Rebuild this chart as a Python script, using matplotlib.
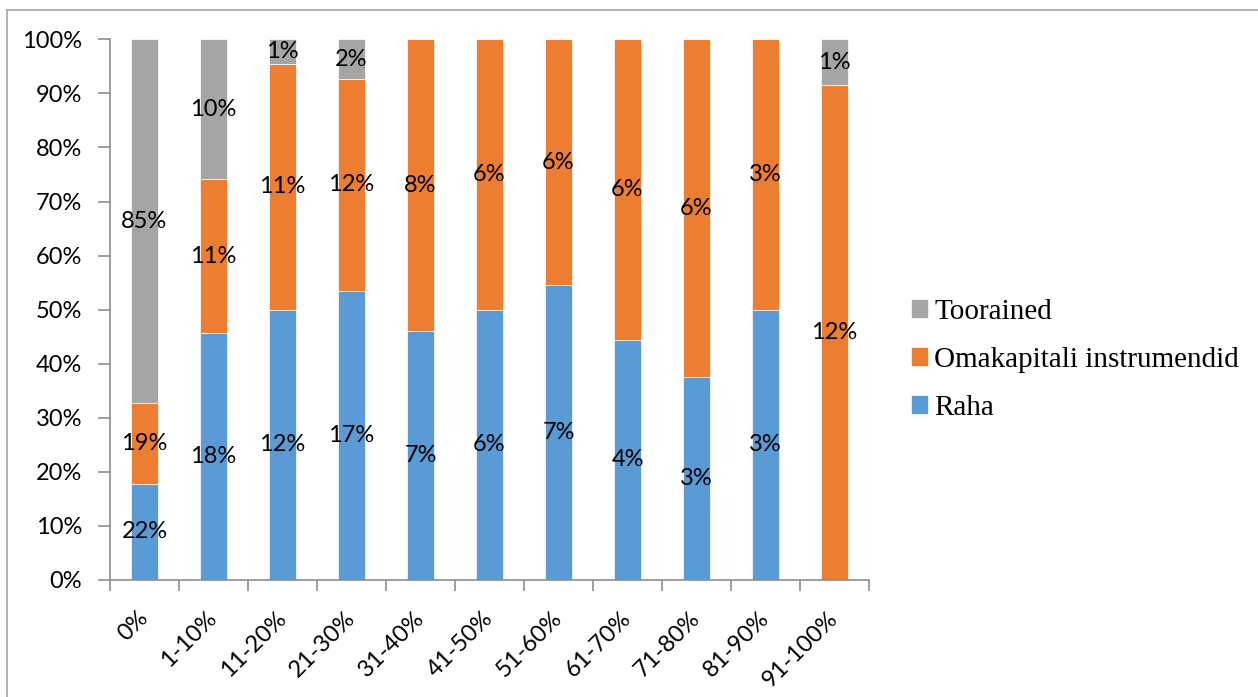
import matplotlib.pyplot as plt
import numpy as np
from matplotlib.lines import Line2D
from matplotlib.patches import Patch

### data (bar shares, labels as printed)
categories = ['0%', '1-10%', '11-20%', '21-30%', '31-40%', '41-50%',
              '51-60%', '61-70%', '71-80%', '81-90%', '91-100%']
raha = [17.8, 45.6, 50.0, 53.5, 46.1, 50.0, 54.5, 44.4, 37.5, 50.0, 0.0]
omakapital = [14.9, 28.6, 45.4, 39.2, 53.9, 50.0, 45.5, 55.6, 62.5, 50.0, 91.5]
toorained = [67.3, 25.8, 4.6, 7.3, 0.0, 0.0, 0.0, 0.0, 0.0, 0.0, 8.5]

raha_labels = ['22%', '18%', '12%', '17%', '7%', '6%', '7%', '4%', '3%', '3%', '']
omak_labels = ['19%', '11%', '11%', '12%', '8%', '6%', '6%', '6%', '6%', '3%', '12%']
toor_labels = ['85%', '10%', '1%', '2%', '', '', '', '', '', '', '1%']

series_names = ['Raha', 'Omakapitali instrumendid', 'Toorained']
colors = ['#5B9BD5', '#ED7D31', '#A5A5A5']
yticks = [0, 10, 20, 30, 40, 50, 60, 70, 80, 90, 100]

axis_grey = '#8c8c8c'
label_font = 'Lato'
fs = 17

fig = plt.figure(figsize=(12.58, 6.97), dpi=100)
ax = fig.add_axes([110/1258, 1 - 580/697, 759/1258, 540.7/697])

x = np.arange(len(categories))
bottom = np.zeros(len(categories))
for vals, labs, col in zip([raha, omakapital, toorained],
                           [raha_labels, omak_labels, toor_labels], colors):
    bars = ax.bar(x, vals, 0.4, bottom=bottom, color=col,
                  edgecolor='white', linewidth=0.5)
    ax.bar_label(bars, labels=labs, label_type='center',
                 fontsize=fs, family=label_font, color='black')
    bottom += np.array(vals)

ax.set_xlim(-0.5, len(categories) - 0.5)
ax.set_ylim(0, 100)
ax.set_yticks(yticks)
ax.set_yticklabels([f'{t}%' for t in yticks], family=label_font, fontsize=fs)

# category labels at centers, tick marks at boundaries
ax.set_xticks(x)
ax.set_xticklabels(categories, rotation=45, ha='right', va='center',
                   rotation_mode='anchor', family=label_font, fontsize=fs)
ax.set_xticks(np.arange(len(categories) + 1) - 0.5, minor=True)
ax.tick_params(axis='x', which='major', length=0, pad=25)
ax.tick_params(axis='x', which='minor', length=8, width=1.2, color=axis_grey)
ax.tick_params(axis='y', length=9, width=1.2, color=axis_grey, pad=11)

for s in ['top', 'right']:
    ax.spines[s].set_visible(False)
for s in ['left', 'bottom']:
    ax.spines[s].set_color(axis_grey)
    ax.spines[s].set_linewidth(1.2)

handles = [Patch(color=c) for c in colors]
leg = fig.legend(handles[::-1], series_names[::-1], loc='center left',
                 bbox_to_anchor=(912/1258, 1 - 360/697), frameon=False,
                 borderpad=0, borderaxespad=0, handlelength=0.52,
                 handleheight=0.52, handletextpad=0.25, labelspacing=0.75,
                 prop={'family': 'Liberation Serif', 'size': 21})

# outer chart border (left and top edges visible)
fig.add_artist(Line2D([7/1258, 7/1258], [0, 1 - 10/697], color='#a6a6a6', lw=1.2))
fig.add_artist(Line2D([7/1258, 1], [1 - 10/697, 1 - 10/697], color='#a6a6a6', lw=1.2))

fig.savefig('out.png', dpi=100)
